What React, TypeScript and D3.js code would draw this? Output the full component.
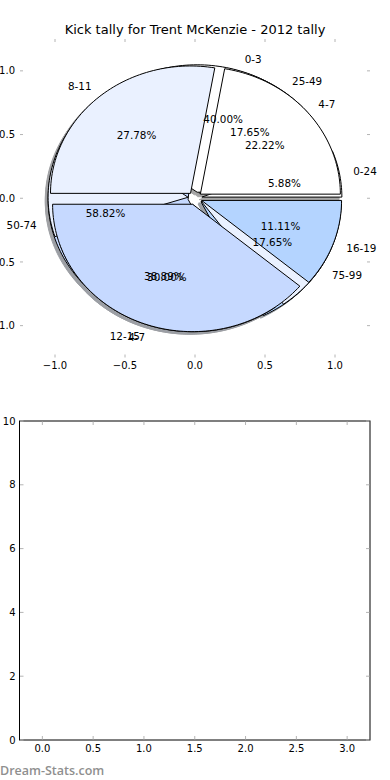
import React from "react";
import * as d3 from "d3";

const W = 390;
const H = 780;
const title = "Kick tally for Trent McKenzie - 2012 tally";
const watermark = "Dream-Stats.com";

// three pies stacked on one axes, drawn bottom -> top
const pieBLabels = ["0-24", "25-49", "50-74", "75-99"];
const pieBValues = [1, 3, 10, 3];
const pieBColors = ["#ffffff", "#eaf1ff", "#c6d9ff", "#b4d4ff"];

const pieCLabels = ["0-3", "", "4-7", ""];
const pieCValues = [8, 3, 6, 3];
const pieCColors = ["#ffffff", "#eaf1ff", "#ffffff", "#eaf1ff"];

const pieALabels = ["4-7", "8-11", "12-15", "16-19"];
const pieAValues = [4, 5, 7, 2];
const pieAColors = ["#ffffff", "#eaf1ff", "#c6d9ff", "#b4d4ff"];

const pieTicks = [-1, -0.5, 0, 0.5, 1];
const barXTicks = [0, 0.5, 1, 1.5, 2, 2.5, 3];
const barYTicks = [0, 2, 4, 6, 8, 10];

const EXPLODE = 0.05;
const FONT = "DejaVu Sans, sans-serif";
const tickGray = "#b4b4b4";

const pieX = d3.scaleLinear().domain([-1.25, 1.25]).range([20, 370]);
const pieY = d3.scaleLinear().domain([-1.25, 1.25]).range([357.5, 39]);
const barX = d3.scaleLinear().domain([-0.225, 3.225]).range([19.5, 370]);
const barY = d3.scaleLinear().domain([0, 10]).range([740, 421]);

const line = d3
  .line<[number, number]>()
  .x((d) => pieX(d[0]))
  .y((d) => pieY(d[1]));

function wedge(cx: number, cy: number, a0: number, a1: number) {
  const n = Math.max(2, Math.ceil((a1 - a0) / (Math.PI / 120)));
  const pts: [number, number][] = [[cx, cy]];
  for (let i = 0; i <= n; i++) {
    const a = a0 + ((a1 - a0) * i) / n;
    pts.push([cx + Math.cos(a), cy + Math.sin(a)]);
  }
  return line(pts) + "Z";
}

const layout = (values: number[], labels: string[], colors: string[]) => {
  const total = d3.sum(values);
  const arcs = d3
    .pie<number>()
    .sort(null)
    .startAngle(0)
    .endAngle(2 * Math.PI)(values);
  return arcs.map((a, i) => {
    const mid = (a.startAngle + a.endAngle) / 2;
    const ox = EXPLODE * Math.cos(mid);
    const oy = EXPLODE * Math.sin(mid);
    return {
      a0: a.startAngle,
      a1: a.endAngle,
      ox,
      oy,
      mid,
      color: colors[i % colors.length],
      label: labels[i],
      pct: ((100 * values[i]) / total).toFixed(2) + "%",
    };
  });
};

const pies = [
  layout(pieBValues, pieBLabels, pieBColors),
  layout(pieCValues, pieCLabels, pieCColors),
  layout(pieAValues, pieALabels, pieAColors),
];

const shade = (c: string) => {
  const rgb = d3.rgb(c);
  return d3.rgb(rgb.r * 0.3, rgb.g * 0.3, rgb.b * 0.3).formatHex();
};

export default function App() {
  const all = pies.flat();
  return (
    <svg
      width={W}
      height={H}
      style={{ position: "absolute", left: 0, top: 0, background: "#fff" }}
      fontFamily={FONT}
    >
      <text x={195} y={34} textAnchor="middle" fontSize={13}>
        {title}
      </text>

      {/* pie axes ticks, no spines */}
      {pieTicks.map((t) => (
        <g key={"px" + t} stroke={tickGray}>
          <line x1={pieX(t)} x2={pieX(t)} y1={39} y2={42} />
          <line x1={pieX(t)} x2={pieX(t)} y1={354.5} y2={357.5} />
          <line x1={20} x2={23} y1={pieY(t)} y2={pieY(t)} />
          <line x1={367} x2={370} y1={pieY(t)} y2={pieY(t)} />
        </g>
      ))}
      {pieTicks.map((t) => (
        <g key={"pl" + t} fontSize={10}>
          <text x={pieX(t)} y={369} textAnchor="middle">
            {d3.format(".1f")(t).replace("-", "\u2212")}
          </text>
          <text x={15} y={pieY(t) + 3.6} textAnchor="end">
            {d3.format(".1f")(t).replace("-", "\u2212")}
          </text>
        </g>
      ))}

      {/* shadows under every wedge */}
      <g opacity={0.5}>
        {all.map((s, i) => (
          <path
            key={"sh" + i}
            d={wedge(s.ox - 0.02, s.oy - 0.02, s.a0, s.a1)}
            fill={shade(s.color)}
            stroke={shade(s.color)}
            strokeWidth={1}
          />
        ))}
      </g>

      {pies.map((p, pi) => (
        <g key={"pie" + pi}>
          {p.map((s, i) => (
            <path
              key={i}
              d={wedge(s.ox, s.oy, s.a0, s.a1)}
              fill={s.color}
              stroke="#000"
              strokeWidth={1}
              strokeLinejoin="round"
            />
          ))}
        </g>
      ))}

      {all
        .filter((s) => s.label)
        .map((s, i) => {
          const lx = s.ox + 1.1 * Math.cos(s.mid);
          const ly = s.oy + 1.1 * Math.sin(s.mid);
          const px = s.ox + 0.6 * Math.cos(s.mid);
          const py = s.oy + 0.6 * Math.sin(s.mid);
          return (
            <g key={"t" + i} fontSize={10.4}>
              <text
                x={pieX(lx)}
                y={pieY(ly) + 3.7}
                textAnchor={lx > 0 ? "start" : "end"}
              >
                {s.label}
              </text>
              <text x={pieX(px)} y={pieY(py) + 3.7} textAnchor="middle">
                {s.pct}
              </text>
            </g>
          );
        })}

      {/* empty second axes */}
      <rect
        x={barX.range()[0]}
        y={barY.range()[1]}
        width={barX.range()[1] - barX.range()[0]}
        height={barY.range()[0] - barY.range()[1]}
        fill="none"
        stroke="#000"
        strokeWidth={1}
      />
      {barXTicks.map((t) => (
        <g key={"bx" + t}>
          <line x1={barX(t)} x2={barX(t)} y1={421.5} y2={425} stroke={tickGray} />
          <line x1={barX(t)} x2={barX(t)} y1={736} y2={739.5} stroke={tickGray} />
          <text x={barX(t)} y={752} textAnchor="middle" fontSize={10}>
            {d3.format(".1f")(t)}
          </text>
        </g>
      ))}
      {barYTicks.map((t) => (
        <g key={"by" + t}>
          <line x1={20} x2={23.5} y1={barY(t)} y2={barY(t)} stroke={tickGray} />
          <line x1={366} x2={369.5} y1={barY(t)} y2={barY(t)} stroke={tickGray} />
          <text x={15.5} y={barY(t) + 3.6} textAnchor="end" fontSize={10}>
            {t}
          </text>
        </g>
      ))}

      <text
        x={0}
        y={774.5}
        fontSize={12.5}
        fontFamily="Open Sans, sans-serif"
        fontWeight={600}
        fill="#8f8f8f"
      >
        {watermark}
      </text>
    </svg>
  );
}
